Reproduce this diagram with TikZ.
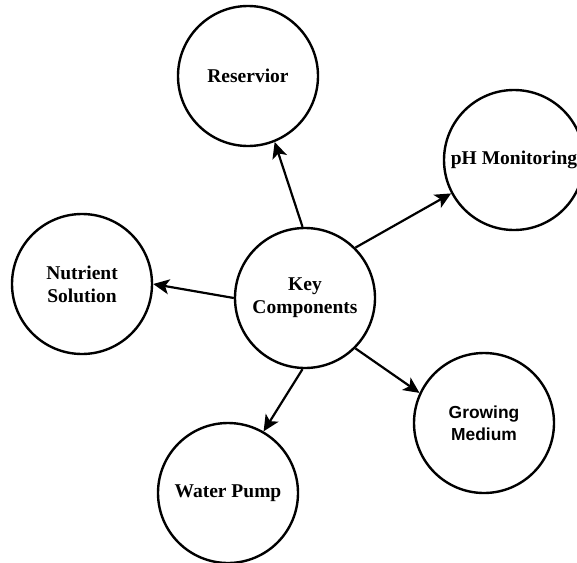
\documentclass[tikz,border=0pt]{standalone}
\usepackage{fontspec}
\setmainfont{Liberation Serif}
\newfontfamily\gmfont{Liberation Sans}
\usetikzlibrary{arrows.meta}
\begin{document}
\begin{tikzpicture}[x=1pt,y=-1pt,
  comp/.style={circle,draw,line width=2.4pt,minimum size=140pt,inner sep=0pt,align=center,
    font=\fontsize{19.5}{23}\selectfont\bfseries},
  link/.style={line width=2.2pt,-{Stealth[length=16pt,width=15pt,inset=4pt]}}]
\useasboundingbox[fill=white] (0,0) rectangle (577,562);
\node[comp] (key) at (305,298) {Key\\Components};
\node[comp] (res) at (248,76) {Reservior};
\node[comp] (ph) at (514,160) {pH Monitoring};
\node[comp] (nut) at (82,284) {Nutrient\\Solution};
\node[comp] (pump) at (228,493) {Water Pump};
\node[comp,font=\gmfont\fontsize{17.4}{22}\selectfont\bfseries] (grow) at (484,423) {Growing\\Medium};
\draw[link] (key.92) -- (res.292);
\draw[link] (key.45) -- (ph.208);
\draw[link] (key.180) -- (nut.0);
\draw[link] (key.268) -- (pump.60);
\draw[link] (key.-45) -- (grow.155);
\end{tikzpicture}
\end{document}
